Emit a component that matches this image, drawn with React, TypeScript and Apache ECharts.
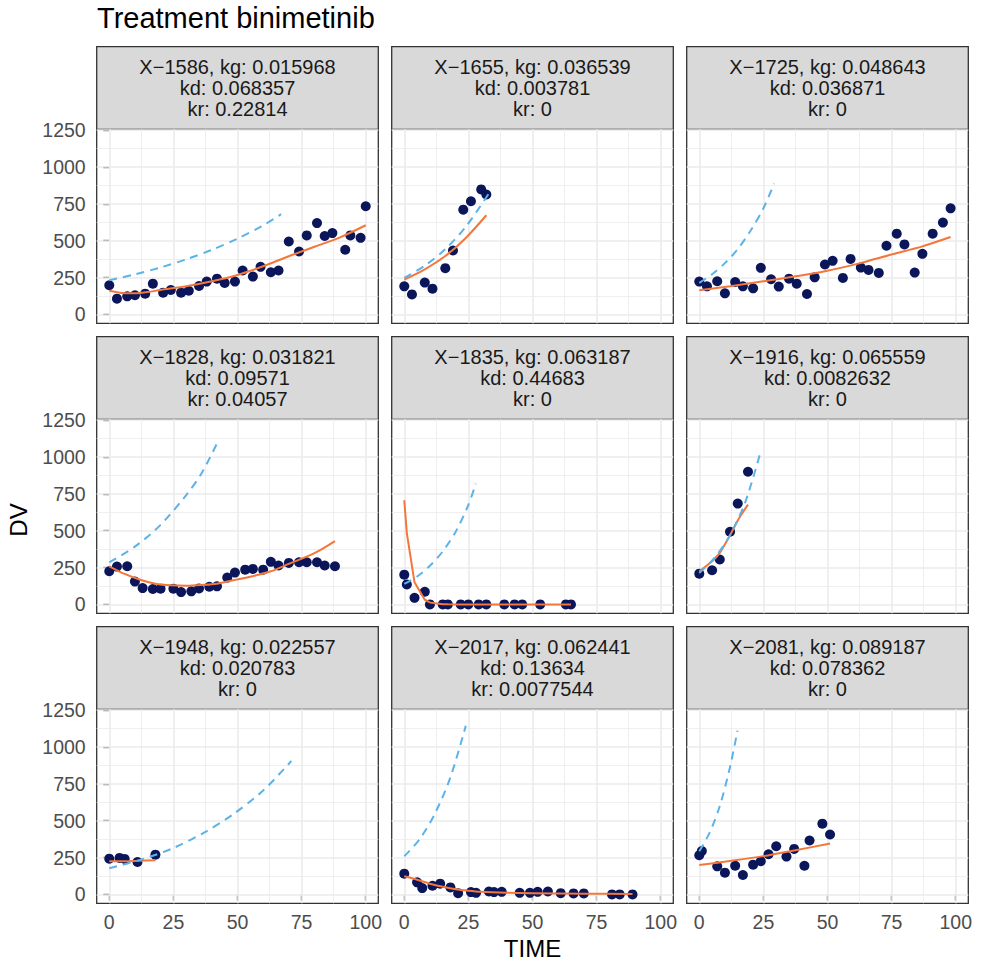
import React, { useEffect, useRef } from "react";
import * as echarts from "echarts";

// ---- facet labels ----
const PANEL_IDS = ["X−1586", "X−1655", "X−1725", "X−1828", "X−1835", "X−1916", "X−1948", "X−2017", "X−2081"];
const KG = ["0.015968", "0.036539", "0.048643", "0.031821", "0.063187", "0.065559", "0.022557", "0.062441", "0.089187"];
const KD = ["0.068357", "0.003781", "0.036871", "0.09571", "0.44683", "0.0082632", "0.020783", "0.13634", "0.078362"];
const KR = ["0.22814", "0", "0", "0.04057", "0", "0", "0", "0.0077544", "0"];

// ---- observed DV by TIME ----
const obs1586 = [[0,198],[3,107],[7,123],[10,130],[14,141],[17,209],[21,148],[24,166],[28,148],[31,161],[35,193],[38,223],[42,243],[45,214],[49,223],[52,298],[56,257],[59,323],[63,286],[66,298],[70,495],[74,427],[77,536],[81,620],[84,532],[87,552],[92,439],[94,536],[98,520],[100,734]];
const obs1655 = [[0,191],[3,136],[8,216],[11,175],[16,314],[19,434],[23,711],[26,768],[30,848],[32,814]];
const obs1725 = [[0,223],[3,191],[7,225],[10,143],[14,220],[17,191],[21,177],[24,316],[28,239],[31,189],[35,243],[38,209],[42,139],[45,252],[49,339],[52,364],[56,248],[59,377],[63,318],[66,302],[70,282],[73,466],[77,548],[80,475],[84,284],[87,411],[91,548],[95,623],[98,720]];
const obs1828 = [[0,225],[3,257],[7,259],[10,155],[13,111],[17,105],[20,107],[25,107],[28,84],[32,89],[35,109],[39,120],[42,123],[46,182],[49,216],[53,236],[56,241],[60,236],[63,289],[66,264],[70,282],[74,286],[77,286],[81,286],[84,264],[88,259]];
const obs1835 = [[0,202],[1,136],[4,45],[8,86],[10,0],[15,0],[17,0],[22,0],[25,0],[29,0],[32,0],[39,0],[43,0],[46,0],[53,0],[63,0],[65,0]];
const obs1916 = [[0,209],[5,232],[8,305],[12,493],[15,684],[19,900]];
const obs1948 = [[0,243],[4,248],[6,241],[11,220],[18,270]];
const obs2017 = [[0,141],[5,82],[7,43],[11,59],[14,73],[18,48],[21,9],[26,16],[28,11],[33,20],[35,16],[38,18],[45,11],[49,11],[52,18],[56,20],[61,9],[66,7],[70,7],[81,0],[84,0],[89,0]];
const obs2081 = [[0,266],[1,295],[7,191],[10,148],[14,195],[17,132],[21,202],[24,225],[27,273],[30,327],[34,257],[37,309],[41,195],[43,366],[48,480],[51,407]];

// ---- model fit (solid) ----
const fit1586 = [[0,161],[5,146],[10,143],[15,152],[20,166],[30,191],[40,225],[50,268],[60,327],[70,395],[80,459],[90,523],[100,605]];
const fit1655 = [[0,236],[8,306],[16,396],[24,519],[32,673]];
const fit1725 = [[0,164],[12,192],[25,225],[37,257],[49,293],[62,345],[75,407],[87,462],[98,525]];
const fit1828 = [[0,259],[6,207],[12,168],[18,141],[24,130],[30,127],[36,132],[42,141],[50,170],[57,197],[63,225],[70,275],[80,348],[88,430]];
const fit1835 = [[0,707],[1,484],[4,150],[8,32],[10,14],[15,2],[17,1],[22,0],[65,0]];
const fit1916 = [[0,225],[5,293],[8,350],[12,470],[15,570],[19,677]];
const fit1948 = [[0,225],[4,226],[6,226],[11,228],[18,232]];
const fit2017 = [[0,123],[5,100],[10,73],[15,52],[20,35],[25,25],[30,18],[40,12],[50,9],[70,5],[89,3]];
const fit2081 = [[0,200],[12.5,228],[25,260],[37.5,300],[51,345]];

// ---- unperturbed growth (dashed) ----
const growth1586 = [[0,232],[10,272],[20,319],[30,374],[40,438],[50,514],[60,604],[67,680]];
const growth1655 = [[0,248],[8,331],[16,443],[24,595],[32.8,816]];
const growth1725 = [[0,214],[5,273],[10,348],[15,443],[20,568],[25,720],[29.2,888]];
const growth1828 = [[0,286],[10,392],[20,540],[30,742],[36,890],[42.2,1100]];
const growth1835 = [[0,139],[5,190],[10,262],[15,360],[20,492],[25,675],[27.9,820]];
const growth1916 = [[0,214],[6,317],[12,470],[18,697],[24,1040]];
const growth1948 = [[0,178],[12.5,237],[25,315],[37.5,425],[48.4,545],[60,705],[71,905]];
const growth2017 = [[0,259],[6,375],[12,550],[18,795],[24,1145]];
const growth2081 = [[0,293],[4,418],[8,600],[12,865],[14.9,1111]];

const OBS = [obs1586, obs1655, obs1725, obs1828, obs1835, obs1916, obs1948, obs2017, obs2081];
const FITS = [fit1586, fit1655, fit1725, fit1828, fit1835, fit1916, fit1948, fit2017, fit2081];
const GROWTH = [growth1586, growth1655, growth1725, growth1828, growth1835, growth1916, growth1948, growth2017, growth2081];

// ---- axes ----
const X_TICKS = [0, 25, 50, 75, 100];
const X_MINOR = [12.5, 37.5, 62.5, 87.5];
const Y_TICKS = [0, 250, 500, 750, 1000, 1250];
const Y_MINOR = [125, 375, 625, 875, 1125];
const X_RANGE = [-4.9, 104.9];
const Y_RANGE = [-60, 1256];

// ---- layout ----
const FONT = "'Liberation Sans', Arial, Helvetica, sans-serif";
const COL_LEFT = [96.7, 391.7, 686.7];
const ROW_TOP = [46.7, 336.7, 626.7];
const STRIP_H = 82.6;
const PANEL_W = 281.6;
const PANEL_H = 194;

const C_POINT = "#0A1659";
const C_FIT = "#F4763A";
const C_GROWTH = "#5CB3E8";
const C_GRID = "#EBEBEB";
const C_BORDER = "#333333";

const plain = (v: number) => String(v);

function buildOption() {
  const grid: any[] = [];
  const xAxis: any[] = [];
  const yAxis: any[] = [];
  const series: any[] = [];
  const graphic: any[] = [];

  for (let i = 0; i < 9; i++) {
    const r = Math.floor(i / 3);
    const c = i % 3;
    const left = COL_LEFT[c];
    const top = ROW_TOP[r];

    grid.push({
      left, top: top + STRIP_H, width: PANEL_W, height: PANEL_H,
      show: true, borderColor: C_BORDER, borderWidth: 1.3, backgroundColor: "#ffffff",
      containLabel: false,
    });

    const bottomRow = r === 2;
    const leftCol = c === 0;

    xAxis.push({
      type: "value", gridIndex: i, min: X_RANGE[0], max: X_RANGE[1],
      axisLine: { show: false },
      splitLine: { show: false },
      axisTick: { show: bottomRow, customValues: X_TICKS, length: 6, lineStyle: { color: C_BORDER, width: 1.3 } },
      axisLabel: { show: bottomRow, customValues: X_TICKS, formatter: plain, fontSize: 19.5, color: "#4D4D4D", fontFamily: FONT, margin: 9 },
    });
    yAxis.push({
      type: "value", gridIndex: i, min: Y_RANGE[0], max: Y_RANGE[1],
      axisLine: { show: false },
      splitLine: { show: false },
      axisTick: { show: leftCol, customValues: Y_TICKS, length: 6, lineStyle: { color: C_BORDER, width: 1.3 } },
      axisLabel: { show: leftCol, customValues: Y_TICKS, formatter: plain, fontSize: 19.5, color: "#4D4D4D", fontFamily: FONT, margin: 11 },
    });

    // panel grid lines (major + minor), kept beneath the data
    const major = { color: C_GRID, width: 1.6, type: "solid" };
    const minor = { color: C_GRID, width: 0.8, type: "solid" };
    series.push({
      type: "line", xAxisIndex: i, yAxisIndex: i, data: [], silent: true, z: 1,
      markLine: {
        z: 1, silent: true, symbol: ["none", "none"], label: { show: false }, animation: false,
        emphasis: { disabled: true },
        data: [
          ...X_MINOR.map((v) => ({ xAxis: v, lineStyle: minor })),
          ...Y_MINOR.map((v) => ({ yAxis: v, lineStyle: minor })),
          ...X_TICKS.map((v) => ({ xAxis: v, lineStyle: major })),
          ...Y_TICKS.map((v) => ({ yAxis: v, lineStyle: major })),
        ],
      },
    });

    series.push({
      type: "scatter", xAxisIndex: i, yAxisIndex: i, data: OBS[i], symbol: "circle", symbolSize: 10,
      itemStyle: { color: C_POINT, opacity: 1, borderWidth: 0 },
      emphasis: { disabled: true },
      z: 3, silent: true,
    });
    series.push({
      type: "line", xAxisIndex: i, yAxisIndex: i, data: FITS[i], symbol: "none",
      smooth: i === 4 ? false : 0.3,
      lineStyle: { color: C_FIT, width: 2 }, z: 4, silent: true,
    });
    series.push({
      type: "line", xAxisIndex: i, yAxisIndex: i, data: GROWTH[i], symbol: "none",
      smooth: 0.3,
      lineStyle: { color: C_GROWTH, width: 2, type: [8, 6] }, z: 5, silent: true,
    });

    // facet strip
    graphic.push({
      type: "rect", silent: true,
      shape: { x: left, y: top, width: PANEL_W, height: STRIP_H },
      style: { fill: "#D9D9D9", stroke: C_BORDER, lineWidth: 1.3 },
    });
    graphic.push({
      type: "text", silent: true, x: left + PANEL_W / 2, y: top + STRIP_H / 2,
      style: {
        text: `${PANEL_IDS[i]}, kg: ${KG[i]}\nkd: ${KD[i]}\nkr: ${KR[i]}`,
        fill: "#1A1A1A", font: `20px ${FONT}`, lineHeight: 21,
        align: "center", verticalAlign: "middle",
      },
    });
  }

  graphic.push({
    type: "text", silent: true, x: 97, y: 17.5,
    style: { text: "Treatment binimetinib", fill: "#000000", font: `29px ${FONT}`, align: "left", verticalAlign: "middle" },
  });
  graphic.push({
    type: "text", silent: true, x: 532.5, y: 948,
    style: { text: "TIME", fill: "#000000", font: `24px ${FONT}`, align: "center", verticalAlign: "middle" },
  });
  graphic.push({
    type: "text", silent: true, x: 18, y: 520, rotation: Math.PI / 2,
    style: { text: "DV", fill: "#000000", font: `24px ${FONT}`, align: "center", verticalAlign: "middle" },
  });

  return { animation: false, backgroundColor: "#ffffff", grid, xAxis, yAxis, series, graphic };
}

export default function App() {
  const ref = useRef<HTMLDivElement>(null);
  useEffect(() => {
    const chart = echarts.init(ref.current!, null, { renderer: "svg" });
    chart.setOption(buildOption() as any);
    return () => chart.dispose();
  }, []);
  return <div ref={ref} style={{ position: "fixed", left: 0, top: 0, width: 981, height: 963 }} />;
}
